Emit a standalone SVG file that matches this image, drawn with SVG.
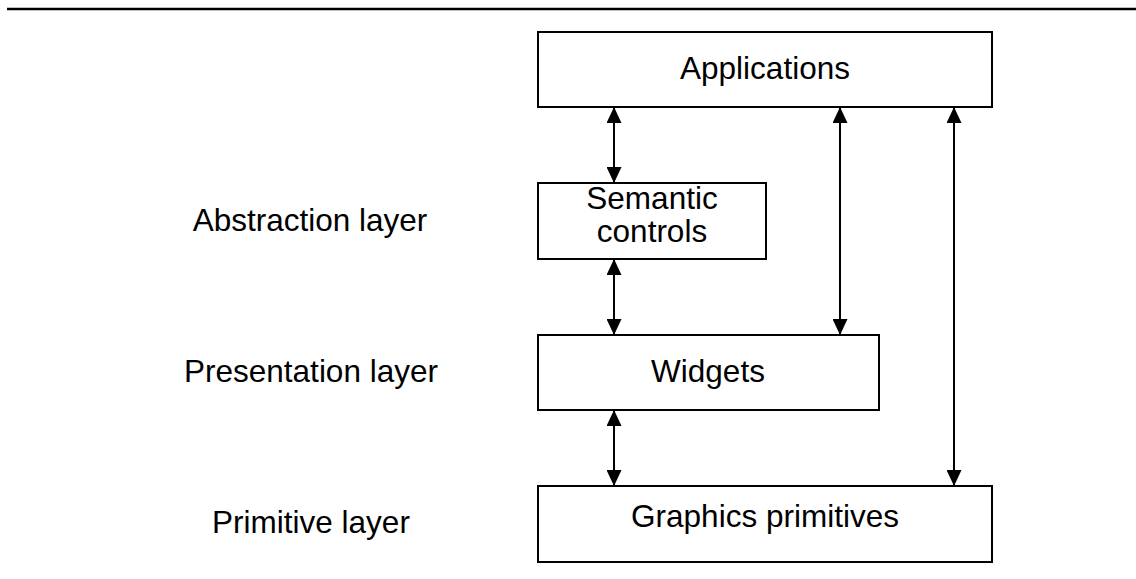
<svg xmlns="http://www.w3.org/2000/svg" width="1136" height="579" viewBox="0 0 1136 579">
  <style>
    .box { fill: #ffffff; stroke: #000000; stroke-width: 2; }
    .label { font-family: "Liberation Sans", Arial, sans-serif; font-size: 31.5px; fill: #000000; text-anchor: middle; }
    .link { stroke: #000000; stroke-width: 2; fill: none; marker-start: url(#head); marker-end: url(#head); }
  </style>
  <defs>
    <marker id="head" viewBox="0 0 16 15" refX="16" refY="7.5" markerWidth="16" markerHeight="15" markerUnits="userSpaceOnUse" orient="auto-start-reverse">
      <path d="M0,0 L16,7.5 L0,15 Z" fill="#000000"/>
    </marker>
  </defs>

  <rect width="1136" height="579" fill="#ffffff"/>

  <!-- top rule -->
  <line x1="7" y1="9" x2="1136" y2="9" stroke="#000000" stroke-width="2.4"/>

  <!-- layer captions -->
  <g id="layer-labels">
    <text class="label" x="310" y="231">Abstraction layer</text>
    <text class="label" x="311" y="382">Presentation layer</text>
    <text class="label" x="311" y="533">Primitive layer</text>
  </g>

  <g id="applications">
    <rect class="box" x="538" y="32" width="454" height="75"/>
    <text class="label" x="765" y="79">Applications</text>
  </g>

  <g id="semantic-controls">
    <rect class="box" x="538" y="183" width="228" height="76"/>
    <text class="label" x="652" y="209">Semantic</text>
    <text class="label" x="652" y="242">controls</text>
  </g>

  <g id="widgets">
    <rect class="box" x="538" y="335" width="341" height="75"/>
    <text class="label" x="708" y="382">Widgets</text>
  </g>

  <g id="graphics-primitives">
    <rect class="box" x="538" y="486" width="454" height="76"/>
    <text class="label" x="765" y="527">Graphics primitives</text>
  </g>

  <g id="connectors">
    <line class="link" x1="614" y1="107" x2="614" y2="183"/>
    <line class="link" x1="614" y1="259" x2="614" y2="335"/>
    <line class="link" x1="614" y1="410" x2="614" y2="486"/>
    <line class="link" x1="840" y1="107" x2="840" y2="335"/>
    <line class="link" x1="954" y1="107" x2="954" y2="486"/>
  </g>
</svg>
